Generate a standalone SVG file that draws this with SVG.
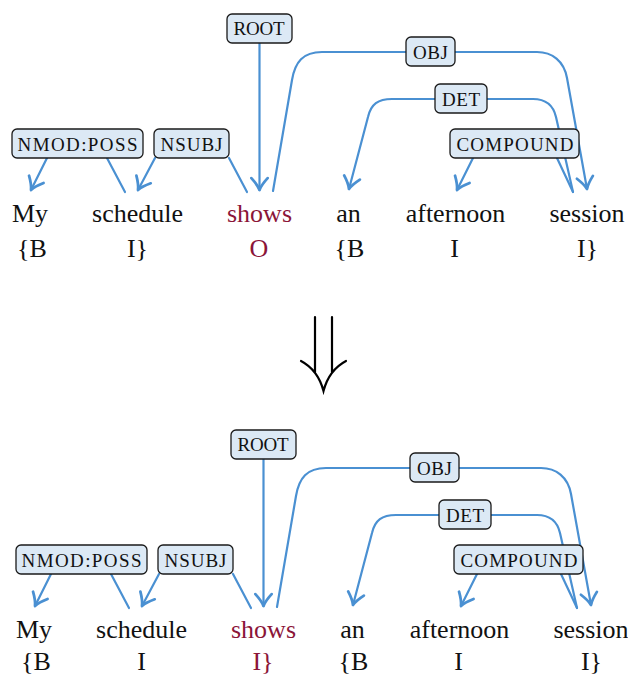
<svg xmlns="http://www.w3.org/2000/svg" width="628" height="677" viewBox="0 0 628 677">
<style>
.e{fill:none;stroke:#4a90d2;stroke-width:2.2;stroke-linecap:round;stroke-linejoin:round}
.a{marker-end:url(#ah)}
.b{fill:#dce9f5;stroke:#1a1a1a;stroke-width:1.3}
.l{font-family:"Liberation Serif","Times New Roman",Times,serif;font-size:19px;fill:#111;text-anchor:middle}
.w{font-family:"Liberation Serif","Times New Roman",Times,serif;font-size:26px;fill:#111;text-anchor:middle}
.r{fill:#8b1538}
</style>
<defs>
<marker id="ah" markerUnits="userSpaceOnUse" markerWidth="20" markerHeight="20" viewBox="-12 -8 14 16" refX="0" refY="0" orient="auto">
<path d="M -9.5 -6.5 Q -4 -1.5 0 0 Q -4 1.5 -9.5 6.5" fill="none" stroke="#4a90d2" stroke-width="2.2" stroke-linecap="round" stroke-linejoin="round"/>
</marker>
</defs>
<g id="top">
<g id="edges-top">
<path class="e a" d="M 259.5 43 L 259.5 190"/>
<path class="e a" d="M 125 192 L 107 158 M 47 158 L 31 190"/>
<path class="e a" d="M 247 192 L 229 158 M 155 158 L 138 190"/>
<path class="e a" d="M 273 191 L 292 80 C 295 62 303 52 322 52 L 537 52 C 552 52 564 61 567 78 L 587 189"/>
<path class="e a" d="M 573 192 L 556 117 C 553 104 545 99 533 99 L 392 99 C 378 99 371 104 368 117 L 349 189"/>
<path class="e a" d="M 573 192 L 557 158 M 473 158 L 457 190"/>
</g>
<g id="t-root"><rect class="b" x="227" y="14" width="65" height="29" rx="5"/><text class="l" x="259" y="35.3" textLength="51" lengthAdjust="spacing">ROOT</text></g>
<g id="t-nmodposs"><rect class="b" x="12" y="129" width="131" height="29" rx="5"/><text class="l" x="77.5" y="150.5" textLength="120" lengthAdjust="spacing">NMOD:POSS</text></g>
<g id="t-nsubj"><rect class="b" x="154" y="129" width="75" height="29" rx="5"/><text class="l" x="191.5" y="150.5" textLength="62" lengthAdjust="spacing">NSUBJ</text></g>
<g id="t-obj"><rect class="b" x="406" y="37" width="49" height="29" rx="5"/><text class="l" x="430.5" y="58.5" textLength="35" lengthAdjust="spacing">OBJ</text></g>
<g id="t-det"><rect class="b" x="435" y="84" width="52" height="29" rx="5"/><text class="l" x="461" y="105.5" textLength="38" lengthAdjust="spacing">DET</text></g>
<g id="t-compound"><rect class="b" x="450" y="129" width="129" height="29" rx="5"/><text class="l" x="515" y="150.5" textLength="117" lengthAdjust="spacing">COMPOUND</text></g>
<g id="t-words">
<text class="w" x="30" y="222">My</text>
<text class="w" x="137.5" y="222">schedule</text>
<text class="w r" x="259.5" y="222">shows</text>
<text class="w" x="348.5" y="222">an</text>
<text class="w" x="455.5" y="222">afternoon</text>
<text class="w" x="587" y="222">session</text>
<text class="w" x="32" y="257">{B</text>
<text class="w" x="137.5" y="257">I}</text>
<text class="w r" x="259" y="257">O</text>
<text class="w" x="349.5" y="257">{B</text>
<text class="w" x="454.5" y="257">I</text>
<text class="w" x="587.5" y="257">I}</text>
</g>
</g>
<g id="arrow-down" fill="none" stroke="#000" stroke-width="2.2" stroke-linecap="round">
<path d="M 315 317 L 315 372 M 332 317 L 332 372"/>
<path d="M 301 361 Q 318 370 323.5 391 Q 329 370 346 361"/>
</g>
<g id="bottom" transform="translate(4,416)">
<g id="edges-bottom">
<path class="e a" d="M 259.5 43 L 259.5 190"/>
<path class="e a" d="M 125 192 L 107 158 M 47 158 L 31 190"/>
<path class="e a" d="M 247 192 L 229 158 M 155 158 L 138 190"/>
<path class="e a" d="M 273 191 L 292 80 C 295 62 303 52 322 52 L 537 52 C 552 52 564 61 567 78 L 587 189"/>
<path class="e a" d="M 573 192 L 556 117 C 553 104 545 99 533 99 L 392 99 C 378 99 371 104 368 117 L 349 189"/>
<path class="e a" d="M 573 192 L 557 158 M 473 158 L 457 190"/>
</g>
<g id="b-root"><rect class="b" x="227" y="14" width="65" height="29" rx="5"/><text class="l" x="259" y="35.3" textLength="51" lengthAdjust="spacing">ROOT</text></g>
<g id="b-nmodposs"><rect class="b" x="12" y="129" width="131" height="29" rx="5"/><text class="l" x="77.5" y="150.5" textLength="120" lengthAdjust="spacing">NMOD:POSS</text></g>
<g id="b-nsubj"><rect class="b" x="154" y="129" width="75" height="29" rx="5"/><text class="l" x="191.5" y="150.5" textLength="62" lengthAdjust="spacing">NSUBJ</text></g>
<g id="b-obj"><rect class="b" x="406" y="37" width="49" height="29" rx="5"/><text class="l" x="430.5" y="58.5" textLength="35" lengthAdjust="spacing">OBJ</text></g>
<g id="b-det"><rect class="b" x="435" y="84" width="52" height="29" rx="5"/><text class="l" x="461" y="105.5" textLength="38" lengthAdjust="spacing">DET</text></g>
<g id="b-compound"><rect class="b" x="450" y="129" width="129" height="29" rx="5"/><text class="l" x="515" y="150.5" textLength="117" lengthAdjust="spacing">COMPOUND</text></g>
<g id="b-words">
<text class="w" x="30" y="222">My</text>
<text class="w" x="137.5" y="222">schedule</text>
<text class="w r" x="259.5" y="222">shows</text>
<text class="w" x="348.5" y="222">an</text>
<text class="w" x="455.5" y="222">afternoon</text>
<text class="w" x="587" y="222">session</text>
<text class="w" x="32" y="254">{B</text>
<text class="w" x="137.5" y="254">I</text>
<text class="w r" x="259" y="254">I}</text>
<text class="w" x="349.5" y="254">{B</text>
<text class="w" x="454.5" y="254">I</text>
<text class="w" x="587.5" y="254">I}</text>
</g>
</g>
</svg>
